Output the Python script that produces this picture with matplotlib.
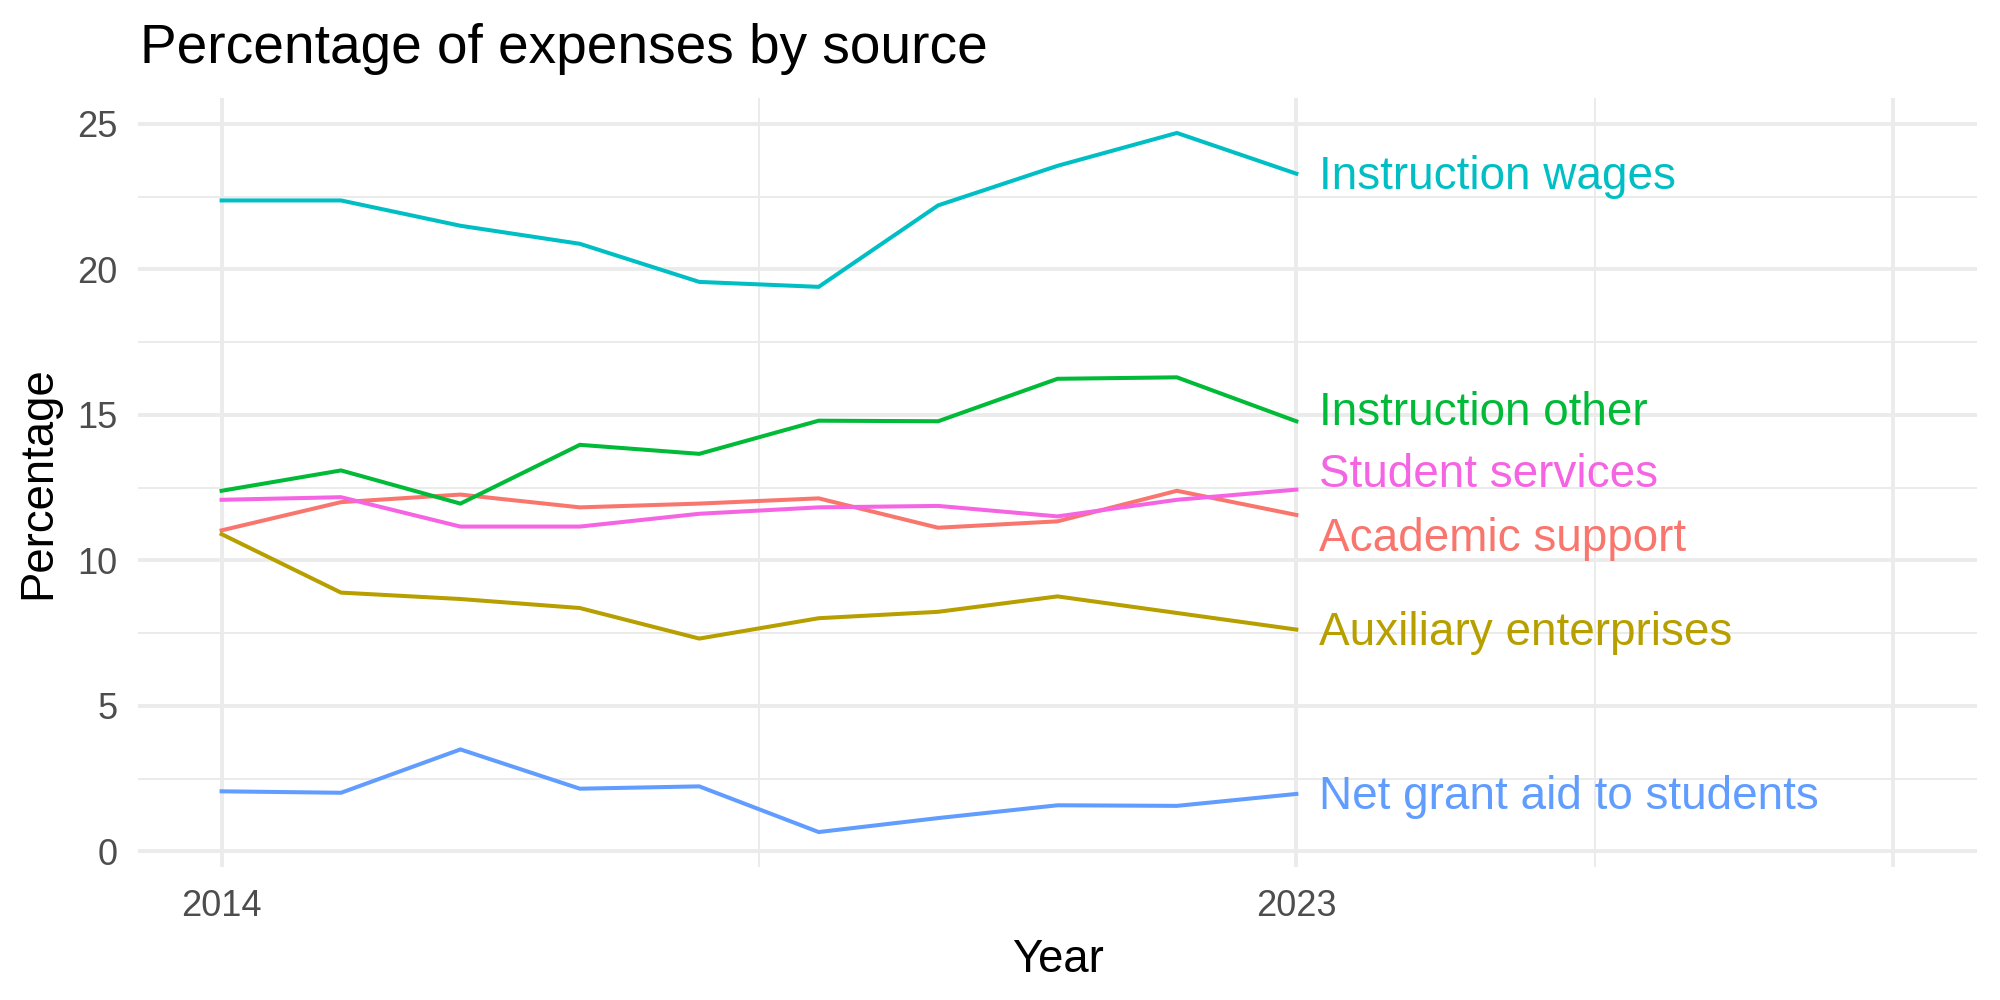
import matplotlib
matplotlib.use('Agg')
import matplotlib.pyplot as plt
from matplotlib.ticker import FixedLocator

plt.rcParams['font.family'] = ['Liberation Sans', 'DejaVu Sans']

years = [2014, 2015, 2016, 2017, 2018, 2019, 2020, 2021, 2022, 2023]

academic_support = [11.03, 12.00, 12.26, 11.82, 11.95, 12.13, 11.12, 11.34, 12.39, 11.56]
auxiliary_enterprises = [10.90, 8.89, 8.67, 8.36, 7.31, 8.01, 8.23, 8.76, 8.19, 7.62]
instruction_other = [12.39, 13.09, 11.95, 13.97, 13.66, 14.80, 14.78, 16.24, 16.29, 14.78]
instruction_wages = [22.37, 22.37, 21.50, 20.88, 19.57, 19.40, 22.20, 23.56, 24.69, 23.29]
net_grant_aid = [2.06, 2.01, 3.50, 2.15, 2.23, 0.66, 1.14, 1.58, 1.56, 1.97]
student_services = [12.08, 12.17, 11.16, 11.16, 11.60, 11.82, 11.87, 11.51, 12.08, 12.43]

series_names = ['Academic support', 'Auxiliary enterprises', 'Instruction other',
                'Instruction wages', 'Net grant aid to students', 'Student services']
series_values = [academic_support, auxiliary_enterprises, instruction_other,
                 instruction_wages, net_grant_aid, student_services]
colors = ['#F8766D', '#B79F00', '#00BA38', '#00BFC4', '#619CFF', '#F564E3']

# labels are pushed apart a little (like ggrepel) so they don't overlap
label_nudge = {'Instruction other': 0.42, 'Student services': 0.62, 'Academic support': -0.70}

fig = plt.figure(figsize=(10, 5), dpi=200)
ax = fig.add_axes([0.069, 0.133, 0.9195, 0.769])

for name, vals, col in zip(series_names, series_values, colors):
    ax.plot(years, vals, color=col, lw=1.45, solid_joinstyle='miter', zorder=3)
    ax.text(years[-1] + 0.19, vals[-1] + label_nudge.get(name, 0) - 0.12, name,
            color=col, fontsize=16.5, va='center', ha='left', zorder=4)

# x scale runs to 2028 to leave room for the labels
x_lo, x_hi = 2014, 2028
pad = (x_hi - x_lo) * 0.05
ax.set_xlim(x_lo - pad, x_hi + pad)
ymin = min(min(v) for v in series_values)
ymax = max(max(v) for v in series_values)
ypad = (ymax - ymin) * 0.05
ax.set_ylim(ymin - ypad, ymax + ypad)

ax.xaxis.set_major_locator(FixedLocator([2014, 2023, 2028]))
ax.set_xticklabels(['2014', '2023', ''])
ax.xaxis.set_minor_locator(FixedLocator([2018.5, 2025.5]))
ax.yaxis.set_major_locator(FixedLocator([0, 5, 10, 15, 20, 25]))
ax.yaxis.set_minor_locator(FixedLocator([2.5, 7.5, 12.5, 17.5, 22.5]))

ax.grid(which='major', color='#EBEBEB', lw=1.4)
ax.grid(which='minor', color='#EBEBEB', lw=0.7)
ax.tick_params(which='both', length=0)
ax.tick_params(axis='x', pad=8, labelsize=13, labelcolor='#4D4D4D')
ax.tick_params(axis='y', pad=7.5, labelsize=13, labelcolor='#4D4D4D')
for s in ax.spines.values():
    s.set_visible(False)

ax.set_xlabel('Year', fontsize=16.4, labelpad=5)
ax.set_ylabel('Percentage', fontsize=16.4, labelpad=6)
fig.text(0.070, 0.937, 'Percentage of expenses by source', fontsize=19.8, ha='left', va='baseline')

fig.savefig('out.png', dpi=200)
